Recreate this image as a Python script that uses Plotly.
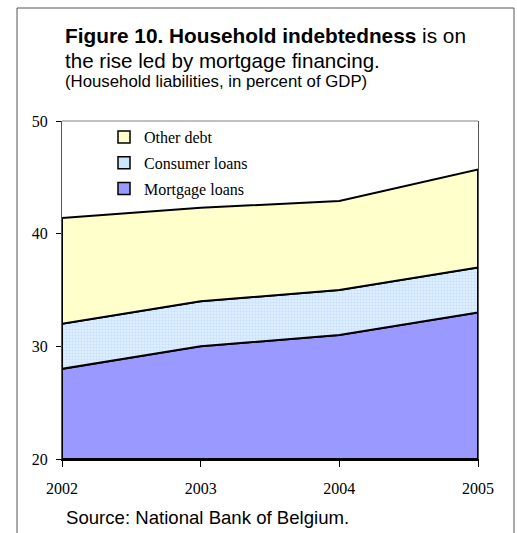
import plotly.graph_objects as go

years = [2002, 2003, 2004, 2005]
mortgage = [28.0, 30.0, 31.0, 33.0]
consumer = [4.0, 4.0, 4.0, 4.0]
other = [9.4, 8.3, 7.9, 8.7]
y_ticks = [20, 30, 40, 50]
y_min, y_max = 20, 50

series_names = ["Mortgage loans", "Consumer loans", "Other debt"]
series_vals = [mortgage, consumer, other]
colors = ["#9999FF", "#CCE5FF", "#FFFFCC"]

W, H = 517, 533
L, R, T, B = 62, 39, 121, 74
pw, ph = W - L - R, H - T - B

def px_x(x):
    return (x - L) / pw

def px_y(y):
    return (H - B - y) / ph

fig = go.Figure()

cum = [0.0] * len(years)
bottom = [y_min] * len(years)
for i, (name, vals, col) in enumerate(zip(series_names, series_vals, colors)):
    cum = [c + v for c, v in zip(cum, vals)]
    top = list(cum)
    xs = years + years[::-1] + [years[0]]
    ys = top + bottom[::-1] + [top[0]]
    kw = dict(fillcolor=col)
    if name == "Consumer loans":
        kw = dict(fillcolor="white",
                  fillpattern=dict(shape=".", fgcolor="#A8D0FF", bgcolor="#E6F2FF",
                                   size=3, solidity=0.5))
    fig.add_trace(go.Scatter(x=xs, y=ys, mode="lines", fill="toself",
                             line=dict(color="black", width=2),
                             showlegend=False, hoverinfo="skip", **kw))
    bottom = top

# legend entries (top series listed first)
for name, col in reversed(list(zip(series_names, colors))):
    fig.add_trace(go.Scatter(x=[None], y=[None], mode="markers", name=name,
                             legendgroup=name,
                             marker=dict(symbol="square", size=12, color=col,
                                         line=dict(color="black", width=1.5))))

fig.update_layout(
    width=W, height=H,
    margin=dict(l=L, r=R, t=T, b=B, pad=0),
    paper_bgcolor="white", plot_bgcolor="white",
    font=dict(family="Liberation Serif", size=16, color="black"),
    showlegend=True,
    legend=dict(x=px_x(104), y=px_y(120), xanchor="left", yanchor="top",
                traceorder="grouped", tracegroupgap=2,
                bgcolor="rgba(0,0,0,0)", font=dict(family="Liberation Serif", size=16),
                itemsizing="trace"),
    xaxis=dict(range=[years[0], years[-1]], tickvals=years, ticktext=[str(y) for y in years],
               showgrid=False, zeroline=False, showline=True, linecolor="black", linewidth=2,
               ticks="outside", ticklen=6, tickcolor="black", ticklabelstandoff=8),
    yaxis=dict(range=[y_min, y_max], tickvals=y_ticks, showgrid=False, zeroline=False,
               showline=True, linecolor="#555555", linewidth=1, mirror=True,
               ticks="outside", ticklen=5, tickcolor="black", ticklabelstandoff=5),
)

# plot-area top border
fig.add_shape(type="line", xref="paper", yref="paper", x0=0, x1=1, y0=1, y1=1,
              line=dict(color="#808080", width=1))
# outer frame
fig.add_shape(type="rect", xref="paper", yref="paper",
              x0=px_x(17), x1=px_x(514), y0=px_y(545), y1=px_y(8),
              line=dict(color="#555555", width=1))

fig.add_annotation(xref="paper", yref="paper", x=px_x(63), y=px_y(36),
                   xanchor="left", yanchor="middle", showarrow=False,
                   text="<b>Figure 10. Household indebtedness</b> is on",
                   font=dict(family="Liberation Sans", size=20.8, color="black"))
fig.add_annotation(xref="paper", yref="paper", x=px_x(63), y=px_y(60),
                   xanchor="left", yanchor="middle", showarrow=False,
                   text="the rise led by mortgage financing.",
                   font=dict(family="Liberation Sans", size=20.6, color="black"))
fig.add_annotation(xref="paper", yref="paper", x=px_x(63), y=px_y(82),
                   xanchor="left", yanchor="middle", showarrow=False,
                   text="(Household liabilities, in percent of GDP)",
                   font=dict(family="Liberation Sans", size=16.8, color="black"))
fig.add_annotation(xref="paper", yref="paper", x=px_x(64), y=px_y(517),
                   xanchor="left", yanchor="middle", showarrow=False,
                   text="Source: National Bank of Belgium.",
                   font=dict(family="Liberation Sans", size=18.6, color="black"))

fig.write_html("out.html")
